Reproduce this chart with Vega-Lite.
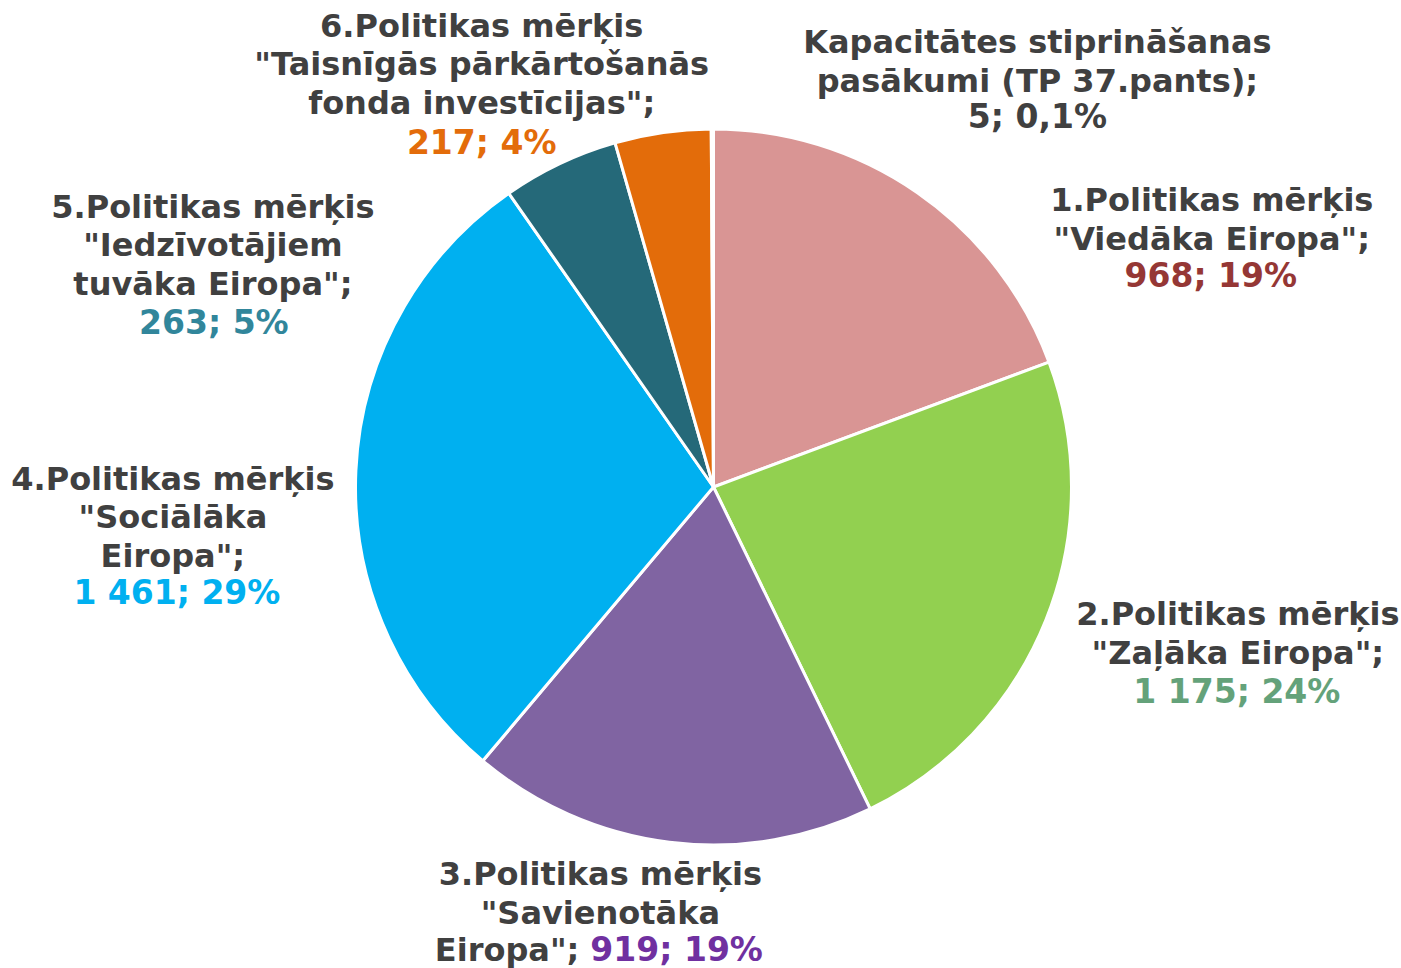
{
  "$schema": "https://vega.github.io/schema/vega-lite/v6.json",
  "width": 1375,
  "height": 962,
  "padding": {"left": 26, "top": 6, "right": 0, "bottom": 0},
  "autosize": {"type": "none"},
  "background": "white",
  "config": {"view": {"stroke": null}},
  "data": {
    "values": [
      {"id": 1, "cat": "1.Politikas mērķis \"Viedāka Eiropa\"", "value": 968, "label": "1.Politikas mērķis\n\"Viedāka Eiropa\";", "pre": "", "val": "968; 19%"},
      {"id": 2, "cat": "2.Politikas mērķis \"Zaļāka Eiropa\"", "value": 1175, "label": "2.Politikas mērķis\n\"Zaļāka Eiropa\";", "pre": "", "val": "1 175; 24%"},
      {"id": 3, "cat": "3.Politikas mērķis \"Savienotāka Eiropa\"", "value": 919, "label": "3.Politikas mērķis\n\"Savienotāka", "pre": "Eiropa\";", "val": "919; 19%"},
      {"id": 4, "cat": "4.Politikas mērķis \"Sociālāka Eiropa\"", "value": 1461, "label": "4.Politikas mērķis\n\"Sociālāka\nEiropa\";", "pre": "", "val": "1 461; 29%"},
      {"id": 5, "cat": "5.Politikas mērķis \"Iedzīvotājiem tuvāka Eiropa\"", "value": 263, "label": "5.Politikas mērķis\n\"Iedzīvotājiem\ntuvāka Eiropa\";", "pre": "", "val": "263; 5%"},
      {"id": 6, "cat": "6.Politikas mērķis \"Taisnīgās pārkārtošanās fonda investīcijas\"", "value": 217, "label": "6.Politikas mērķis\n\"Taisnīgās pārkārtošanās\nfonda investīcijas\";", "pre": "", "val": "217; 4%"},
      {"id": 7, "cat": "Kapacitātes stiprināšanas pasākumi (TP 37.pants)", "value": 5, "label": "Kapacitātes stiprināšanas\npasākumi (TP 37.pants);", "pre": "", "val": "5; 0,1%"}
    ]
  },
  "encoding": {
    "theta": {"field": "value", "type": "quantitative", "stack": true, "scale": {"type": "linear"}},
    "order": {"field": "id", "type": "quantitative", "sort": "ascending"}
  },
  "layer": [
    {
      "mark": {"type": "arc", "outerRadius": 358, "stroke": "white", "strokeWidth": 3},
      "encoding": {
        "color": {
          "field": "cat", "type": "nominal", "legend": null, "sort": null,
          "scale": {
            "domain": [
              "1.Politikas mērķis \"Viedāka Eiropa\"",
              "2.Politikas mērķis \"Zaļāka Eiropa\"",
              "3.Politikas mērķis \"Savienotāka Eiropa\"",
              "4.Politikas mērķis \"Sociālāka Eiropa\"",
              "5.Politikas mērķis \"Iedzīvotājiem tuvāka Eiropa\"",
              "6.Politikas mērķis \"Taisnīgās pārkārtošanās fonda investīcijas\"",
              "Kapacitātes stiprināšanas pasākumi (TP 37.pants)"
            ],
            "range": ["#D99594", "#92D050", "#8064A2", "#00B0F0", "#256979", "#E36C0A", "#A5A5A5"]
          }
        }
      }
    },
    {
      "mark": {
        "type": "text", "radius": 358, "font": "DejaVu Sans", "fontWeight": "bold", "fontSize": 32,
        "lineHeight": 38.5, "lineBreak": "\n", "align": "center", "baseline": "alphabetic", "color": "#404040",
        "dx": {"expr": "[0, 294, 192, -69, -183, -347, -181, 325][datum.id]"},
        "dy": {"expr": "[0, 18, 5, 43, 19, 54, -96, -76][datum.id]"}
      },
      "encoding": {"text": {"field": "label", "type": "nominal"}}
    },
    {
      "mark": {
        "type": "text", "radius": 358, "font": "DejaVu Sans", "fontWeight": "bold", "fontSize": 32,
        "align": "right", "baseline": "alphabetic", "color": "#404040",
        "dx": -90, "dy": 119
      },
      "encoding": {"text": {"field": "pre", "type": "nominal"}}
    },
    {
      "mark": {
        "type": "text", "radius": 358, "font": "DejaVu Sans", "fontWeight": "bold", "fontSize": 33,
        "baseline": "alphabetic",
        "align": {"expr": "datum.id == 3 ? 'left' : 'center'"},
        "dx": {"expr": "[0, 293, 191, -79, -179, -346, -181, 325][datum.id]"},
        "dy": {"expr": "[0, 94, 83, 119, 133, 170, 21, -1][datum.id]"}
      },
      "encoding": {
        "text": {"field": "val", "type": "nominal"},
        "color": {
          "field": "id", "type": "nominal", "legend": null,
          "scale": {"domain": [1, 2, 3, 4, 5, 6, 7], "range": ["#953735", "#64A27A", "#7030A0", "#00B0F0", "#31869B", "#E36C0A", "#404040"]}
        }
      }
    }
  ],
  "resolve": {"scale": {"color": "independent"}}
}
